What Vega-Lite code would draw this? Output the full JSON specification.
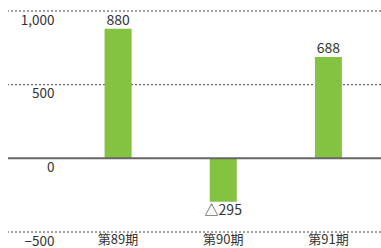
{
  "$schema": "https://vega.github.io/schema/vega-lite/v6.json",
  "width": 373,
  "height": 221,
  "autosize": {"type": "none"},
  "padding": {"left": 8, "top": 11, "right": 0, "bottom": 16},
  "background": "white",
  "config": {"view": {"stroke": null}, "font": "Noto Sans CJK JP"},
  "datasets": {
    "bars": [
      {"period": "第89期", "value": 880, "label": "880"},
      {"period": "第90期", "value": -295, "label": "△295"},
      {"period": "第91期", "value": 688, "label": "688"}
    ],
    "grid": [{"g": 1000}, {"g": 500}, {"g": -500}]
  },
  "layer": [
    {"data": {"name": "grid"},
      "mark": {"type": "rule", "color": "#444444", "strokeWidth": 1, "strokeDash": [2, 2]},
      "encoding": {"y": {"field": "g", "type": "quantitative", "scale": {"domain": [-500, 1000], "nice": false}}}},
    {"data": {"name": "bars"},
      "encoding": {
        "x": {"field": "period", "type": "nominal", "sort": null,
          "scale": {"range": [57.5, 373], "paddingInner": 0.743, "paddingOuter": 0.3715},
          "axis": {"title": null, "domain": false, "ticks": false, "labelAngle": 0, "labelPadding": 1, "labelFontSize": 13, "labelColor": "#333333", "labelBaseline": "top"}},
        "y": {"field": "value", "type": "quantitative",
          "scale": {"domain": [-500, 1000], "nice": false},
          "axis": {"title": null, "values": [-500, 0, 500, 1000], "domain": false, "ticks": false, "format": ",d", "grid": false,
            "labelAlign": "right", "labelBaseline": "top", "labelPadding": -46, "labelOffset": 2, "labelFontSize": 13.5, "labelColor": "#333333"}}
      },
      "layer": [
        {"mark": {"type": "bar", "color": "#84C241"}},
        {"transform": [{"filter": "datum.value >= 0"}],
          "mark": {"type": "text", "baseline": "bottom", "dy": -1, "fontSize": 14, "color": "#333333"},
          "encoding": {"text": {"field": "label"}}},
        {"transform": [{"filter": "datum.value < 0"}],
          "mark": {"type": "text", "baseline": "top", "dy": 2, "fontSize": 14, "color": "#333333"},
          "encoding": {"text": {"field": "label"}}}
      ]
    },
    {"data": {"values": [{"z": 0}]},
      "mark": {"type": "rule", "color": "#666666", "strokeWidth": 2},
      "encoding": {"y": {"field": "z", "type": "quantitative"}}}
  ]
}
